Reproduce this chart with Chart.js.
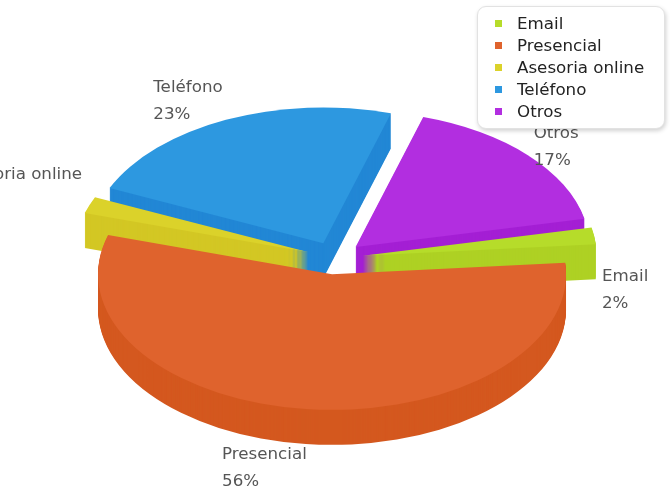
<!DOCTYPE html>
<html>
<head>
<meta charset="utf-8">
<script src="https://cdn.jsdelivr.net/npm/chart.js@4/dist/chart.umd.min.js"></script>
<style>
  body { margin: 0; background: #fff; overflow: hidden; }
  #wrap { position: relative; width: 670px; height: 496px; }
  #legend {
    position: absolute; left: 477px; top: 6px; width: 188px; height: 123px;
    box-sizing: border-box; padding: 5px 0 0 17px;
    background: #fff; border: 1px solid #e2e2e2; border-radius: 9px;
    box-shadow: 1px 2px 4px rgba(0,0,0,0.18);
    font: 16.7px "DejaVu Sans", sans-serif; color: #222;
  }
  #legend div { height: 22px; line-height: 22px; white-space: nowrap; }
  #legend span { display: inline-block; width: 7px; height: 7px; margin-right: 15px; vertical-align: 2px; }
</style>
</head>
<body>
<div id="wrap">
  <canvas id="pieChart" width="670" height="496"></canvas>
  <div id="legend"></div>
</div>
<script>
// data
const labels = ['Email', 'Presencial', 'Asesoria online', 'Teléfono', 'Otros'];
const values = [2, 56, 2, 23, 17];
const topColors = ['#b6dc2a', '#df632d', '#dbd22a', '#2d98e0', '#b22ee0'];
const sideColors = ['#aed124', '#d4581f', '#d3c724', '#2287d5', '#a41fd4'];

const TILT = 0.58;     // vertical squash of the pie
const DEPTH = 35;      // height of the 3d side
const SHIFT_Y = 10;    // move pie down a little
const EXPLODE = 28;

// legend (html, above the canvas like the original)
const legendEl = document.getElementById('legend');
labels.forEach((l, i) => {
  legendEl.innerHTML += `<div><span style="background:${topColors[i]}"></span>${l}</div>`;
});

function slicePath(ctx, a) {
  const mid = (a.startAngle + a.endAngle) / 2;
  const off = a.options.offset || 0;
  const cx = a.x + Math.cos(mid) * off;
  const cy = a.y + Math.sin(mid) * off;
  ctx.beginPath();
  ctx.moveTo(cx, cy);
  ctx.arc(cx, cy, a.outerRadius, a.startAngle, a.endAngle);
  ctx.closePath();
}

// draws the pie flattened, with a darker side, back slices first
const pie3d = {
  id: 'pie3d',
  beforeDatasetsDraw(chart) {
    const ctx = chart.ctx;
    const arcs = chart.getDatasetMeta(0).data.map((a, i) => ({ a, i }));
    arcs.sort((p, q) => Math.sin((p.a.startAngle + p.a.endAngle) / 2) - Math.sin((q.a.startAngle + q.a.endAngle) / 2));
    arcs.forEach(({ a, i }) => {
      for (let k = DEPTH; k >= 0; k--) {
        ctx.save();
        ctx.translate(0, a.y + SHIFT_Y + k);
        ctx.scale(1, TILT);
        ctx.translate(0, -a.y);
        slicePath(ctx, a);
        ctx.fillStyle = k === 0 ? topColors[i] : sideColors[i];
        ctx.fill();
        ctx.restore();
      }
    });
    return false;
  },
  afterDraw(chart) {
    const ctx = chart.ctx;
    ctx.save();
    ctx.font = '16.7px "DejaVu Sans", sans-serif';
    ctx.fillStyle = '#555';
    ctx.textBaseline = 'middle';
    ctx.textAlign = 'left';
    chart.getDatasetMeta(0).data.forEach((a, i) => {
      const mid = (a.startAngle + a.endAngle) / 2;
      const ux = Math.cos(mid), uy = Math.sin(mid);
      const R = (a.outerRadius + (a.options.offset || 0)) * 1.03;
      const ax = a.x + ux * R;
      let ay = a.y + SHIFT_Y + uy * R * TILT;
      // labels of front slices sit below the side, back ones a bit higher
      if (uy > -0.3) ay += DEPTH + 20;
      else ay += ux < 0 ? -15 : -5;
      const l1 = labels[i], l2 = values[i] + '%';
      const w = Math.max(ctx.measureText(l1).width, ctx.measureText(l2).width);
      const left = ux >= 0 ? ax : ax - w;
      ctx.fillText(l1, left, ay - 13.5);
      ctx.fillText(l2, left, ay + 13.5);
    });
    ctx.restore();
  }
};

new Chart(document.getElementById('pieChart').getContext('2d'), {
  type: 'pie',
  data: {
    labels: labels,
    datasets: [{
      data: values,
      backgroundColor: topColors,
      borderWidth: 0,
      offset: EXPLODE,
      hoverOffset: 0
    }]
  },
  options: {
    responsive: false,
    animation: false,
    events: [],
    rotation: 78,
    plugins: { legend: { display: false }, tooltip: { enabled: false } }
  },
  plugins: [pie3d]
});
</script>
</body>
</html>
